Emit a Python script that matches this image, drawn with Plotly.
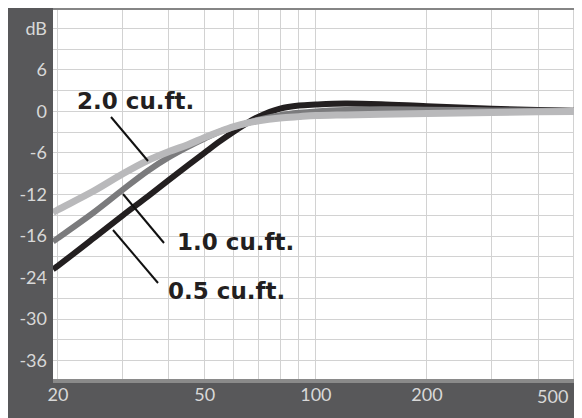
import math
import plotly.graph_objects as go

# ---- data ----
freq_hz = [19.4, 20, 25, 30, 35, 40, 45, 50, 55, 60, 65, 70, 80, 90, 100, 120, 150, 200, 300, 400, 510]
resp_05 = [-22.8, -22.3, -18.3, -15.0, -12.3, -9.9, -7.8, -5.95, -4.3, -2.9, -1.7, -0.75, 0.4, 0.85, 1.0, 1.15, 1.05, 0.75, 0.4, 0.2, 0.1]
resp_10 = [-18.8, -18.3, -14.6, -11.3, -8.6, -6.6, -5.1, -3.9, -2.9, -2.25, -1.7, -1.2, -0.55, -0.2, 0.0, 0.2, 0.3, 0.25, 0.15, 0.1, 0.05]
resp_20 = [-14.6, -14.2, -11.5, -9.0, -7.1, -5.8, -4.8, -3.75, -2.9, -2.2, -1.7, -1.35, -0.95, -0.75, -0.6, -0.5, -0.4, -0.3, -0.15, -0.05, 0.0]
series_names = ["0.5 cu.ft.", "1.0 cu.ft.", "2.0 cu.ft."]

x_grid_vals = [20, 30, 40, 50, 60, 70, 80, 90, 100, 200, 300, 400, 500]
x_label_vals = [20, 50, 100, 200, 500]
x_label_text = ["20", "50", "100", "200", "500"]
y_tick_vals = [12, 6, 0, -6, -12, -18, -24, -30, -36]
y_tick_text = ["dB", "6", "0", "-6", "-12", "-16", "-24", "-30", "-36"]

# ---- styling ----
DARK = "#58585a"
LABEL = "#d8d8d8"
GRID = "#d2d2d2"
colors = ["#231f20", "#7b7b7d", "#b9b9bb"]
widths = [6, 6, 7]

OFF = 8  # page body margin
W, H = 570, 410
ML, MR, MT, MB = 45, 1, 2, 39
PW, PH = W - ML - MR, H - MT - MB

def px_x(p):  # screen px -> paper x
    return (p - OFF - ML) / PW

def px_y(p):  # screen px -> paper y
    return (H - MB - (p - OFF)) / PH

fig = go.Figure()
for name, ys, c, w in zip(series_names, [resp_05, resp_10, resp_20], colors, widths):
    fig.add_trace(go.Scatter(x=freq_hz, y=ys, mode="lines", name=name,
                             line=dict(color=c, width=w, shape="spline", smoothing=1.0),
                             hoverinfo="skip"))

x_text = []
for v in x_grid_vals:
    if v in x_label_vals and v != x_label_vals[-1]:
        x_text.append(x_label_text[x_label_vals.index(v)])
    else:
        x_text.append("")

tickfont = dict(family="Lato, 'Open Sans', sans-serif", size=18, color=LABEL)

fig.update_xaxes(type="log", range=[math.log10(19.4), math.log10(510)],
                 tickmode="array", tickvals=x_grid_vals, ticktext=x_text,
                 showgrid=True, gridcolor=GRID, gridwidth=1.3, zeroline=False,
                 ticks="", ticklabelstandoff=3, tickfont=tickfont, showline=False)
fig.update_yaxes(range=[-38.65, 14.65], tickmode="array", tickvals=y_tick_vals, ticktext=y_tick_text,
                 showgrid=True, gridcolor=GRID, gridwidth=1.3, zeroline=False,
                 minor=dict(dtick=3, tick0=0, showgrid=True, gridcolor=GRID, gridwidth=1.3),
                 ticks="", ticklabelstandoff=5, tickfont=tickfont, showline=False)

shapes = []
# top bar and bottom edge bar
shapes.append(dict(type="rect", xref="paper", yref="paper", x0=0, x1=1, y0=1, y1=px_y(8),
                   fillcolor="#858585", line_width=0, layer="above"))
shapes.append(dict(type="rect", xref="paper", yref="paper", x0=0, x1=1, y0=px_y(383), y1=0,
                   fillcolor="#8a8a8a", line_width=0, layer="above"))
# leader lines
leaders = [((111, 117), (148, 161)), ((123, 194), (164, 243)), ((113, 230), (158, 283))]
for (a, b) in leaders:
    shapes.append(dict(type="line", xref="paper", yref="paper", x0=px_x(a[0]), y0=px_y(a[1]),
                       x1=px_x(b[0]), y1=px_y(b[1]), line=dict(color="#111111", width=2)))

annfont = dict(family="'DejaVu Sans', sans-serif", size=23, color="#231f20", weight="bold")
annotations = [
    dict(text=series_names[2], x=px_x(136), y=px_y(101), xref="paper", yref="paper",
         xanchor="center", yanchor="middle", showarrow=False, font=annfont),
    dict(text=series_names[1], x=px_x(235), y=px_y(242), xref="paper", yref="paper",
         xanchor="center", yanchor="middle", showarrow=False, font=annfont),
    dict(text=series_names[0], x=px_x(226), y=px_y(291), xref="paper", yref="paper",
         xanchor="center", yanchor="middle", showarrow=False, font=annfont),
    dict(text=x_label_text[-1], x=math.log10(x_label_vals[-1]), y=px_y(396), xref="x", yref="paper",
         yanchor="middle", xanchor="right", xshift=-4, showarrow=False, font=tickfont),
]

fig.update_layout(width=W, height=H, margin=dict(l=ML, r=MR, t=MT, b=MB),
                  paper_bgcolor=DARK, plot_bgcolor="white", showlegend=False,
                  shapes=shapes, annotations=annotations)

fig.write_html("out.html")
